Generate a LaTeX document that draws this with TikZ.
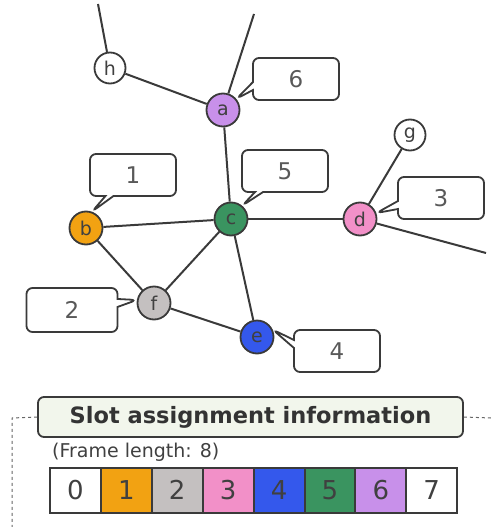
\documentclass[tikz,border=0pt]{standalone}
\usepackage{fontspec}
\setmainfont{DejaVu Sans}
\usetikzlibrary{shapes.callouts}
\definecolor{cLav}{HTML}{C890EA}
\definecolor{cOra}{HTML}{F2A212}
\definecolor{cGre}{HTML}{3A9460}
\definecolor{cPin}{HTML}{F290C8}
\definecolor{cBlu}{HTML}{3458EC}
\definecolor{cGra}{HTML}{C4C0C0}
\definecolor{cTitle}{HTML}{F2F6EC}
\definecolor{cLine}{HTML}{3A3A3A}
\begin{document}
\begin{tikzpicture}[x=1pt,y=-1pt,
  vtx/.style={circle,draw=cLine,line width=1.8pt,minimum size=33pt,inner sep=0pt,font=\fontsize{19}{19}\selectfont,text=black!75},
  smallvtx/.style={vtx,minimum size=31pt,fill=white},
  edge/.style={draw=cLine,line width=2pt},
  slotcall/.style={rectangle callout,rounded corners=6pt,draw=cLine,line width=1.8pt,fill=white,minimum width=86pt,minimum height=42pt,font=\fontsize{23}{23}\selectfont,text=black!65,callout pointer width=8pt},
  cell/.style={draw=cLine,line width=2pt,minimum width=50.9pt,minimum height=45pt,inner sep=0pt,font=\fontsize{26}{26}\selectfont,text=black!75},
  panel/.style={draw=black!60,line width=1pt,dashed}
]
\useasboundingbox (0,0) rectangle (491,527);
% nodes
\node[smallvtx] (h) at (110,68) {h};
\node[vtx,fill=cLav] (a) at (223,110) {a};
\node[smallvtx] (g) at (410,135) {g};
\node[vtx,fill=cOra] (b) at (86,228) {b};
\node[vtx,fill=cGre] (c) at (231,219) {c};
\node[vtx,fill=cPin] (d) at (360,219) {d};
\node[vtx,fill=cGra] (f) at (154,303) {f};
\node[vtx,fill=cBlu] (e) at (257,337) {e};
\coordinate (hTop) at (98,4);
\coordinate (aTop) at (254,14);
\coordinate (dOut) at (486,253);
% edges
\draw[edge] (h) -- (hTop);
\draw[edge] (a) -- (aTop);
\draw[edge] (h) -- (a);
\draw[edge] (a) -- (c);
\draw[edge] (b) -- (c);
\draw[edge] (c) -- (d);
\draw[edge] (b) -- (f);
\draw[edge] (f) -- (c);
\draw[edge] (c) -- (e);
\draw[edge] (f) -- (e);
\draw[edge] (d) -- (g);
\draw[edge] (d) -- (dOut);
% callouts
\node[slotcall,callout absolute pointer={(a.40)}] (s6) at (296,79) {6};
\node[slotcall,callout absolute pointer={(c.50)}] (s5) at (285,171) {5};
\node[slotcall,callout absolute pointer={(b.70)}] (s1) at (133,175) {1};
\node[slotcall,callout absolute pointer={(d.20)}] (s3) at (441,198) {3};
\node[slotcall,callout absolute pointer={(f.170)},minimum width=91pt,minimum height=44pt] (s2) at (72,310) {2};
\node[slotcall,callout absolute pointer={(e.25)}] (s4) at (337,351) {4};
% panel
\node[draw=cLine,line width=1.8pt,rounded corners=6pt,fill=cTitle,minimum width=425pt,minimum height=40pt,inner sep=0pt,font=\bfseries\fontsize{22.5}{22.5}\selectfont,text=black!80] (title) at (250.5,417) {Slot assignment information};
\coordinate (pL) at (12,418);
\coordinate (pB) at (12,527);
\coordinate (pR) at (491,418);
\draw[panel] (title.west) -- (pL) -- (pB);
\draw[panel] (title.east) -- (pR);
\node[anchor=west,font=\fontsize{19}{19}\selectfont,text=black!75,inner sep=0pt] (fl) at (52,452) {(Frame length: 8)};
\foreach \i/\col in {0/white,1/cOra,2/cGra,3/cPin,4/cBlu,5/cGre,6/cLav,7/white}{
  \node[cell,fill=\col] (slot\i) at ({50+50.9*\i+25.45},490) {\i};
}
\end{tikzpicture}
\end{document}
